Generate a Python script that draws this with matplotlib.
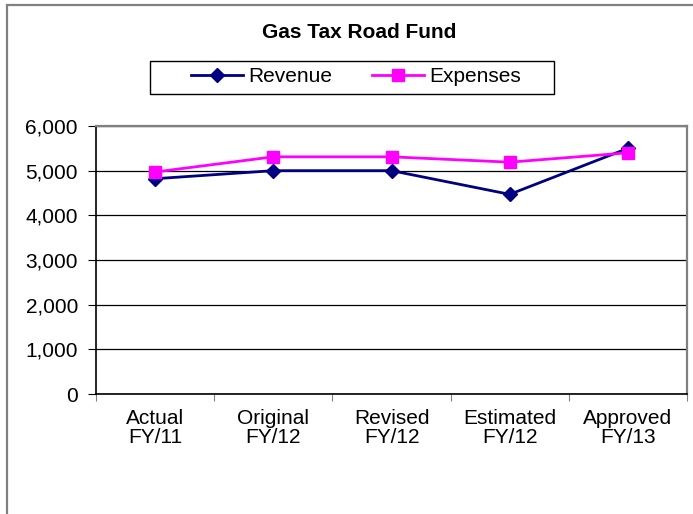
import numpy as np
import matplotlib
matplotlib.use("Agg")
import matplotlib.pyplot as plt
from matplotlib.patches import Rectangle

categories = ["Actual\nFY/11", "Original\nFY/12", "Revised\nFY/12", "Estimated\nFY/12", "Approved\nFY/13"]
revenue = [4820, 5000, 5000, 4470, 5500]
expenses = [4970, 5310, 5310, 5190, 5400]
y_ticks = [0, 1000, 2000, 3000, 4000, 5000, 6000]

plt.rcParams["font.family"] = ["Liberation Sans", "DejaVu Sans"]

W, H = 693, 514
fig = plt.figure(figsize=(W / 100, H / 100), dpi=100)

# outer chart frame (only top and left edges show in the crop)
fig.patches.append(Rectangle((7 / W, -0.1), 1.2, (H - 5) / H + 0.1, transform=fig.transFigure,
                             fill=False, edgecolor="#808080", linewidth=1.6))

ax = fig.add_axes([96 / W, (H - 394) / H, 591 / W, 268 / H])
x = np.arange(len(categories)) + 0.5

ax.plot(x, revenue, color="#000080", marker="D", markersize=7, linewidth=2, label="Revenue")
ax.plot(x, expenses, color="#FF00FF", marker="s", markersize=9, linewidth=2, label="Expenses")

ax.set_xlim(0, len(categories))
ax.set_ylim(0, 6000)
ax.set_yticks(y_ticks)
ax.set_yticklabels([f"{v:,}" for v in y_ticks])
ax.set_xticks(np.arange(len(categories) + 1))
ax.set_xticklabels([])
ax.set_xticks(x, minor=True)
ax.set_xticklabels(categories, minor=True, linespacing=0.95)
ax.tick_params(axis="x", which="minor", length=0, pad=11, labelsize=15)
ax.tick_params(axis="x", which="major", length=5, direction="out", color="#808080")
ax.tick_params(axis="y", length=6, direction="out", labelsize=15, pad=7)
ax.grid(axis="y", color="black", linewidth=0.9)
ax.set_axisbelow(True)

for s in ["top", "right"]:
    ax.spines[s].set_color("#808080")
    ax.spines[s].set_linewidth(1.6)
for s in ["left", "bottom"]:
    ax.spines[s].set_color("black")
    ax.spines[s].set_linewidth(1.2)

fig.text(359 / W, 1 - 33 / H, "Gas Tax Road Fund", ha="center", va="center",
         fontsize=15, fontweight="bold")

# legend box drawn separately so its padding can be wider than the entries
fig.patches.append(Rectangle((150 / W, 1 - 94 / H), 404 / W, 33 / H, transform=fig.transFigure,
                             fill=False, edgecolor="black", linewidth=1.0))
fig.legend(loc="center", bbox_to_anchor=(356 / W, 1 - 77 / H), ncol=2, frameon=False,
           fontsize=15, handlelength=2.5, columnspacing=1.9, handletextpad=0.25,
           borderpad=0.0)

fig.savefig("out.png", dpi=100)
